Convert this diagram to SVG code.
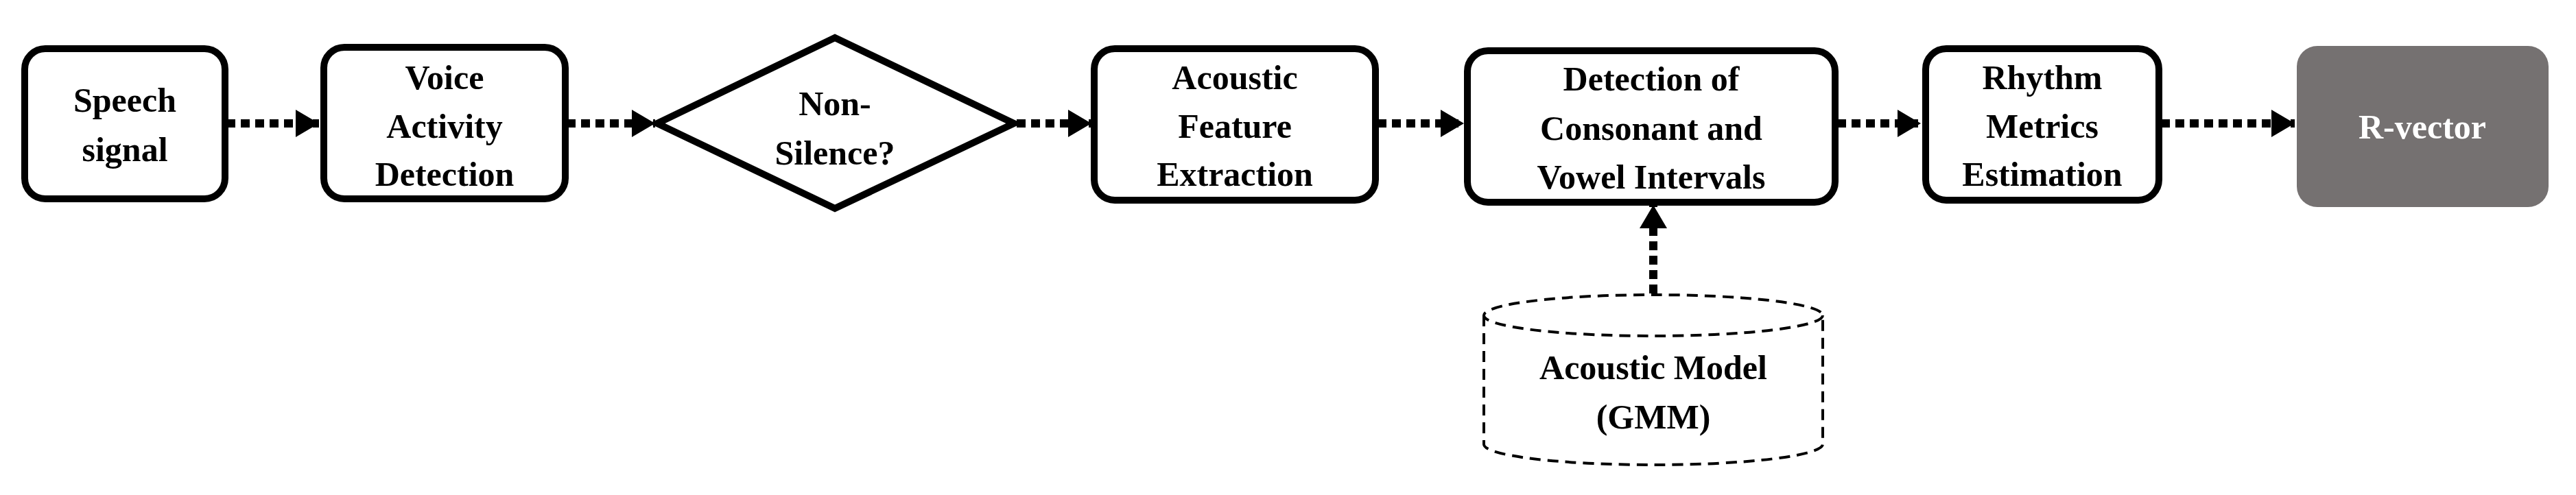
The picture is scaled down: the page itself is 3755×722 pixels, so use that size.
<svg xmlns="http://www.w3.org/2000/svg" width="3755" height="722" viewBox="0 0 3755 722">
<style>
.b{fill:#fff;stroke:#000;stroke-width:10}
.t{font-family:"Liberation Serif",serif;font-weight:bold;font-size:50px;text-anchor:middle;dominant-baseline:central;fill:#000}
.c{fill:none;stroke:#000;stroke-width:12;stroke-dasharray:13 8}
.d{fill:#fff;stroke:#000;stroke-width:4;stroke-dasharray:16 10}
</style>
<defs><marker id="a" markerUnits="userSpaceOnUse" markerWidth="34" markerHeight="40" refX="34" refY="20" orient="auto"><path d="M0,0L34,20L0,40z" fill="#000"/></marker></defs>
<rect width="3755" height="722" fill="#fff"/>
<g id="connectors">
<path class="c" d="M330,180H465" marker-end="url(#a)"/>
<path class="c" d="M826,180H955" marker-end="url(#a)"/>
<path class="c" d="M1482,180H1591" marker-end="url(#a)"/>
<path class="c" d="M2008,180H2134" marker-end="url(#a)"/>
<path class="c" d="M2678,180H2800" marker-end="url(#a)"/>
<path class="c" d="M3150,180H3345" marker-end="url(#a)"/>
<path class="c" d="M2410,428V299" marker-end="url(#a)"/>
</g>
<g id="speech"><rect class="b" x="36" y="71" width="292" height="219" rx="30"/><text class="t" x="182" y="146">Speech</text><text class="t" x="182" y="218">signal</text></g>
<g id="vad"><rect class="b" x="472" y="69" width="352" height="221" rx="30"/><text class="t" x="648" y="113">Voice</text><text class="t" x="648" y="184">Activity</text><text class="t" x="648" y="254">Detection</text></g>
<g id="nonsilence"><path class="b" d="M1217,55L1478,180L1217,304L958,180z"/><text class="t" x="1217" y="151">Non-</text><text class="t" x="1217" y="223">Silence?</text></g>
<g id="afe"><rect class="b" x="1595" y="71" width="410" height="221" rx="30"/><text class="t" x="1800" y="113">Acoustic</text><text class="t" x="1800" y="184">Feature</text><text class="t" x="1800" y="254">Extraction</text></g>
<g id="detect"><rect class="b" x="2139" y="74" width="536" height="221" rx="30"/><text class="t" x="2407" y="115">Detection of</text><text class="t" x="2407" y="187">Consonant and</text><text class="t" x="2407" y="258">Vowel Intervals</text></g>
<g id="rhythm"><rect class="b" x="2807" y="71" width="340" height="221" rx="30"/><text class="t" x="2977" y="113">Rhythm</text><text class="t" x="2977" y="184">Metrics</text><text class="t" x="2977" y="254">Estimation</text></g>
<g id="rvector"><rect x="3348" y="67" width="367" height="235" rx="30" fill="#757171"/><text class="t" x="3531" y="185" fill="#fff" style="fill:#fff">R-vector</text></g>
<g id="gmm"><path class="d" d="M2163,460V648A247,30 0 0 0 2657,648V460"/><ellipse class="d" cx="2410" cy="460" rx="247" ry="30"/><text class="t" x="2410" y="536">Acoustic Model</text><text class="t" x="2410" y="608">(GMM)</text></g>
</svg>
